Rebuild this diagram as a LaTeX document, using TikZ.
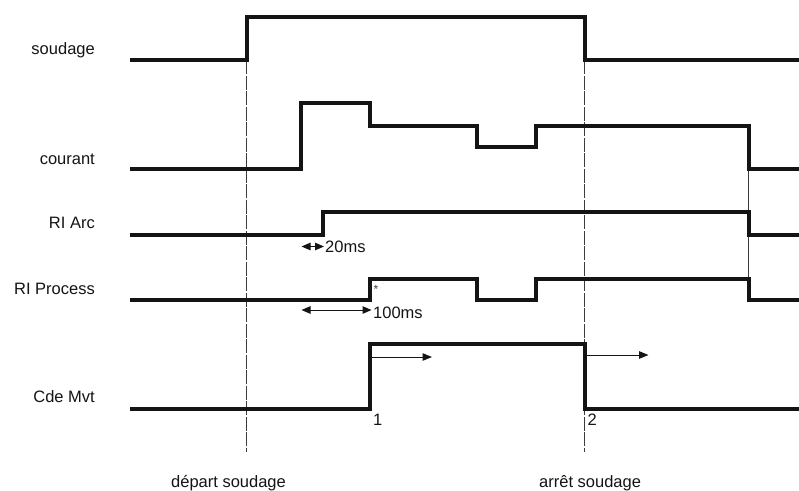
\documentclass[tikz,border=0pt]{standalone}
\usepackage{fontspec}
\setmainfont{Liberation Sans}
\usepackage{tikz}
\usetikzlibrary{arrows.meta, positioning, calc}
\usepackage{xcolor}
\definecolor{ink}{RGB}{20,20,20}
\definecolor{guide}{RGB}{60,60,60}

\begin{document}
\begin{tikzpicture}[x=1pt, y=-1pt,
    sig/.style={ink, line width=4pt, line join=miter},
    vguide/.style={guide, line width=0.9pt, dash pattern=on 14pt off 1.5pt},
    dim/.style={ink, line width=1pt, {Triangle[length=9pt,width=7.5pt]}-{Triangle[length=9pt,width=7.5pt]}},
    push/.style={ink, line width=1pt, -{Triangle[length=9.5pt,width=7.5pt]}},
    lbl/.style={ink, anchor=base east, inner sep=0pt, font=\fontsize{16.5}{19}\selectfont},
    txt/.style={ink, anchor=base west, inner sep=0pt, font=\fontsize{16.5}{19}\selectfont}]
  \useasboundingbox (0,0) rectangle (799,490);
  % signal names
  \node[lbl] (soudage) at (95,54) {soudage};
  \node[lbl] (courant) at (95,164) {courant};
  \node[lbl] (riarc) at (95,228.7) {RI Arc};
  \node[lbl] (riproc) at (95,294.3) {RI Process};
  \node[lbl] (cdemvt) at (95,402.3) {Cde Mvt};
  % guide lines
  \coordinate (dep) at (246.5,60);
  \coordinate (depend) at (246.5,451.7);
  \coordinate (arr) at (584.5,60);
  \coordinate (arrend) at (584.5,451.7);
  \draw[vguide] (dep) -- (depend);
  \draw[vguide] (arr) -- (arrend);
  \draw[guide, line width=0.9pt] (748.5,169) -- (748.5,279);
  % signals
  \draw[sig] (130,60.3) -| (246.5,16.7) -| (584.5,60.3) -- (799,60.3);
  \draw[sig] (130,169.3) -| (301.3,103.3) -| (370,125.7) -| (477.3,146.7)
    -| (536,125.7) -| (748.5,169.3) -- (799,169.3);
  \draw[sig] (130,235) -| (323.3,212.3) -| (748.5,235) -- (799,235);
  \draw[sig] (130,300) -| (370,279) -| (477.3,300) -| (536,279)
    -| (748.5,300) -- (799,300);
  \draw[sig] (130,409) -| (369.7,344) -| (584.5,409) -- (799,409);
  % delays
  \coordinate (a20) at (301.5,246.5);
  \coordinate (b20) at (324,246.5);
  \draw[dim] (a20) -- (b20);
  \node[txt] (t20) at (325,252.5) {20ms};
  \coordinate (a100) at (301.5,310);
  \coordinate (b100) at (371.5,310);
  \draw[dim] (a100) -- (b100);
  \node[txt] (t100) at (373,318.3) {100ms};
  \node[guide, anchor=base, inner sep=0pt, font=\fontsize{12}{13}\selectfont] (star) at (376,293) {*};
  % movement
  \coordinate (m1) at (371.7,357);
  \coordinate (m1e) at (432,357);
  \draw[push] (m1) -- (m1e);
  \coordinate (m2) at (586.7,355);
  \coordinate (m2e) at (648.5,355);
  \draw[push] (m2) -- (m2e);
  \node[txt] (n1) at (373,425) {1};
  \node[txt] (n2) at (587.5,425) {2};
  % events
  \node[txt] (depart) at (171,487) {départ soudage};
  \node[txt] (arret) at (539,487) {arrêt soudage};
\end{tikzpicture}
\end{document}
